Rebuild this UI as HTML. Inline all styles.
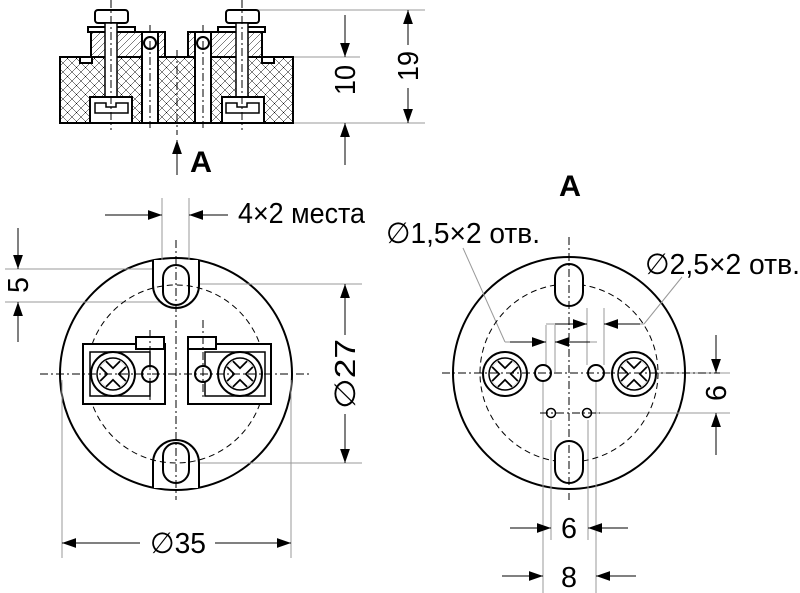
<!DOCTYPE html>
<html><head><meta charset="utf-8"><style>
html,body{margin:0;padding:0;background:#fff}
svg{display:block}
text{font-family:"Liberation Sans Narrow","Liberation Sans",sans-serif;fill:#000}
</style></head><body>
<svg width="800" height="593" viewBox="0 0 800 593" xmlns="http://www.w3.org/2000/svg">
<defs>
<marker id="ar" viewBox="0 0 10 10" refX="10" refY="5" markerWidth="14" markerHeight="14" markerUnits="userSpaceOnUse" orient="auto"><path d="M0,1.5 L10,5 L0,8.5z" fill="#000"/></marker>
<pattern id="xh" width="9" height="9" patternUnits="userSpaceOnUse"><path d="M0,0L9,9M9,0L0,9" stroke="#000" stroke-width="0.5"/></pattern>
<pattern id="dh" width="7" height="7" patternUnits="userSpaceOnUse"><path d="M0,7L7,0" stroke="#000" stroke-width="0.5"/></pattern>
</defs>
<g stroke="#000" stroke-width="2" fill="#fff">
<circle cx="176" cy="374" r="116"/>
<circle cx="569" cy="373" r="116"/>
</g>
<g fill="none" stroke="#999" stroke-width="1">
<line x1="245" y1="10" x2="425" y2="10"/><line x1="293" y1="57" x2="360" y2="57"/><line x1="293" y1="123" x2="425" y2="123"/>
<line x1="162" y1="198" x2="162" y2="262"/><line x1="189" y1="198" x2="189" y2="262"/>
<line x1="5" y1="269" x2="165" y2="269"/><line x1="5" y1="302" x2="160" y2="302"/>
<line x1="190" y1="284" x2="362" y2="284"/><line x1="190" y1="463" x2="362" y2="463"/>
<line x1="62" y1="380" x2="62" y2="558"/><line x1="291" y1="380" x2="291" y2="558"/>
<line x1="543" y1="380" x2="543" y2="593"/><line x1="596" y1="380" x2="596" y2="593"/>
<line x1="551" y1="420" x2="551" y2="540"/><line x1="588" y1="420" x2="588" y2="540"/>
<line x1="546" y1="325" x2="546" y2="372"/><line x1="555" y1="325" x2="555" y2="372"/>
<line x1="587" y1="308" x2="587" y2="365"/><line x1="604" y1="308" x2="604" y2="365"/>
<line x1="600" y1="373" x2="730" y2="373"/><line x1="590" y1="413" x2="730" y2="413"/>
<line x1="463" y1="248" x2="505" y2="342"/><line x1="505" y1="342" x2="546" y2="342"/>
<line x1="555" y1="342" x2="597" y2="342"/>
<line x1="546" y1="324" x2="587" y2="324"/><line x1="604" y1="324" x2="644" y2="324"/><line x1="644" y1="324" x2="682" y2="277"/>
</g>
<g stroke="#000" stroke-width="1" marker-end="url(#ar)">
<line x1="408" y1="45" x2="408" y2="10"/><line x1="408" y1="88" x2="408" y2="123"/>
<line x1="345" y1="15" x2="345" y2="57"/><line x1="345" y1="165" x2="345" y2="123"/>
<line x1="177" y1="175" x2="177" y2="140"/>
<line x1="105" y1="215" x2="162" y2="215"/><line x1="228" y1="215" x2="189" y2="215"/>
<line x1="18" y1="228" x2="18" y2="269"/><line x1="18" y1="342" x2="18" y2="302"/>
<line x1="345" y1="335" x2="345" y2="284"/><line x1="345" y1="414" x2="345" y2="463"/>
<line x1="140" y1="543" x2="62" y2="543"/><line x1="215" y1="543" x2="291" y2="543"/>
<line x1="510" y1="342" x2="546" y2="342"/><line x1="590" y1="342" x2="555" y2="342"/>
<line x1="555" y1="324" x2="587" y2="324"/><line x1="640" y1="324" x2="604" y2="324"/>
<line x1="716" y1="335" x2="716" y2="373"/><line x1="716" y1="455" x2="716" y2="413"/>
<line x1="510" y1="528" x2="551" y2="528"/><line x1="628" y1="528" x2="588" y2="528"/>
<line x1="502" y1="576" x2="543" y2="576"/><line x1="636" y1="576" x2="596" y2="576"/>
</g>
<g stroke="#000" stroke-width="2">
<rect x="60" y="57" width="233" height="66" fill="url(#xh)"/>
<rect x="91" y="32" width="74" height="25" fill="url(#dh)"/>
<rect x="188" y="32" width="74" height="25" fill="url(#dh)"/>
<rect x="80" y="57" width="12" height="6" fill="#fff"/><rect x="262" y="57" width="12" height="6" fill="#fff"/>
<rect x="142" y="32" width="16" height="91" fill="#fff"/><rect x="195" y="32" width="16" height="91" fill="#fff"/>
<circle cx="150" cy="43" r="6" fill="#fff"/><circle cx="203" cy="43" r="6" fill="#fff"/>
<rect x="88" y="27" width="47" height="5" fill="#fff"/><rect x="218" y="27" width="47" height="5" fill="#fff"/>
<rect x="95" y="10" width="33" height="13" rx="3" fill="#fff"/><rect x="226" y="10" width="33" height="13" rx="3" fill="#fff"/>
<rect x="105" y="23" width="12" height="100" fill="#fff" stroke-width="1.5"/><rect x="236" y="23" width="12" height="100" fill="#fff" stroke-width="1.5"/>
<rect x="90" y="97" width="42" height="26" fill="#fff"/><rect x="222" y="97" width="42" height="26" fill="#fff"/>
<path d="M95,113 L95,103 L106,103 L106,107 L116,107 L116,103 L128,103 L128,113 Z" fill="#fff" stroke-width="1.5"/>
<path d="M226,113 L226,103 L237,103 L237,107 L247,107 L247,103 L259,103 L259,113 Z" fill="#fff" stroke-width="1.5"/>
</g>
<g stroke="#000" stroke-width="1" stroke-dasharray="8,3,2,3">
<line x1="111" y1="0" x2="111" y2="130"/><line x1="242" y1="0" x2="242" y2="130"/>
<line x1="150" y1="25" x2="150" y2="128"/><line x1="203" y1="25" x2="203" y2="128"/><line x1="177" y1="50" x2="177" y2="135"/>
</g>
<g stroke="#000" stroke-width="2" fill="#fff">
<path d="M153,260 L153,285 A23,23 0 0 0 199,285 L199,260"/>
<path d="M153,488 L153,463 A23,23 0 0 1 199,463 L199,488"/>
<path d="M163,278 A13,13 0 0 1 189,278 L189,292 A13,13 0 0 1 163,292Z"/>
<path d="M163,456 A13,13 0 0 1 189,456 L189,470 A13,13 0 0 1 163,470Z"/>
</g>
<circle cx="176" cy="374" r="89" fill="none" stroke="#000" stroke-width="1" stroke-dasharray="6,4"/>
<g stroke="#000" stroke-width="2" fill="#fff">
<rect x="83" y="344" width="82" height="60"/><rect x="188" y="344" width="83" height="60"/>
<rect x="90" y="352" width="60" height="44" stroke-width="1.5"/><rect x="205" y="352" width="60" height="44" stroke-width="1.5"/>
<rect x="136" y="337" width="28" height="12"/><rect x="188" y="337" width="28" height="12"/>
<circle cx="113" cy="374" r="22"/><circle cx="240" cy="374" r="22"/>
<circle cx="113" cy="374" r="16" stroke-width="1.5"/><circle cx="240" cy="374" r="16" stroke-width="1.5"/>
<path d="M103,364L123,384M123,364L103,384" stroke-width="10"/><path d="M230,364L250,384M250,364L230,384" stroke-width="10"/>
<path d="M103,364L123,384M123,364L103,384" stroke="#fff" stroke-width="6.5"/><path d="M230,364L250,384M250,364L230,384" stroke="#fff" stroke-width="6.5"/>
<circle cx="150" cy="374" r="8"/><circle cx="203" cy="374" r="8"/>
</g>
<g stroke="#000" stroke-width="1" stroke-dasharray="8,3,2,3" fill="none">
<line x1="40" y1="374" x2="310" y2="374"/><line x1="176" y1="240" x2="176" y2="500"/>
<line x1="150" y1="330" x2="150" y2="400"/><line x1="203" y1="320" x2="203" y2="400"/>
</g>
<circle cx="569" cy="373" r="89" fill="none" stroke="#000" stroke-width="1" stroke-dasharray="6,4"/>
<g stroke="#000" stroke-width="2" fill="#fff">
<path d="M555,278 A14,14 0 0 1 583,278 L583,292 A14,14 0 0 1 555,292Z"/>
<path d="M555,455 A14,14 0 0 1 583,455 L583,469 A14,14 0 0 1 555,469Z"/>
<circle cx="505" cy="374" r="22"/><circle cx="634" cy="374" r="22"/>
<circle cx="505" cy="374" r="16" stroke-width="1.5"/><circle cx="634" cy="374" r="16" stroke-width="1.5"/>
<path d="M495,364L515,384M515,364L495,384" stroke-width="10"/><path d="M624,364L644,384M644,364L624,384" stroke-width="10"/>
<path d="M495,364L515,384M515,364L495,384" stroke="#fff" stroke-width="6.5"/><path d="M624,364L644,384M644,364L624,384" stroke="#fff" stroke-width="6.5"/>
<circle cx="543" cy="373" r="8"/><circle cx="596" cy="373" r="8"/>
<circle cx="551" cy="413" r="4.5" stroke-width="1.5"/><circle cx="587" cy="413" r="4.5" stroke-width="1.5"/>
</g>
<g stroke="#000" stroke-width="1" stroke-dasharray="8,3,2,3" fill="none">
<line x1="442" y1="373" x2="720" y2="373"/><line x1="569" y1="237" x2="569" y2="500"/>
<line x1="540" y1="413" x2="600" y2="413"/>
</g>
<g font-size="30" font-weight="bold">
<text x="190" y="172" textLength="22" lengthAdjust="spacingAndGlyphs">A</text>
<text x="559" y="196" textLength="22" lengthAdjust="spacingAndGlyphs">A</text>
</g>
<g font-size="29">
<text x="238" y="223" textLength="127" lengthAdjust="spacingAndGlyphs">4×2 места</text>
<text x="386" y="243" textLength="154" lengthAdjust="spacingAndGlyphs">∅1,5×2 отв.</text>
<text x="645" y="274" textLength="155" lengthAdjust="spacingAndGlyphs">∅2,5×2 отв.</text>
<text x="561" y="538" textLength="16" lengthAdjust="spacingAndGlyphs">6</text>
<text x="561" y="587" textLength="16" lengthAdjust="spacingAndGlyphs">8</text>
<text transform="translate(355,80) rotate(-90)" text-anchor="middle" textLength="30" lengthAdjust="spacingAndGlyphs">10</text>
<text transform="translate(418,66) rotate(-90)" text-anchor="middle" textLength="30" lengthAdjust="spacingAndGlyphs">19</text>
<text transform="translate(28,285) rotate(-90)" text-anchor="middle" textLength="16" lengthAdjust="spacingAndGlyphs">5</text>
<text transform="translate(355,374) rotate(-90)" text-anchor="middle" textLength="70" lengthAdjust="spacingAndGlyphs">∅27</text>
<text transform="translate(726,393) rotate(-90)" text-anchor="middle" textLength="16" lengthAdjust="spacingAndGlyphs">6</text>
<text x="150" y="553" textLength="56" lengthAdjust="spacingAndGlyphs">∅35</text>
</g>
</svg>
</body></html>
